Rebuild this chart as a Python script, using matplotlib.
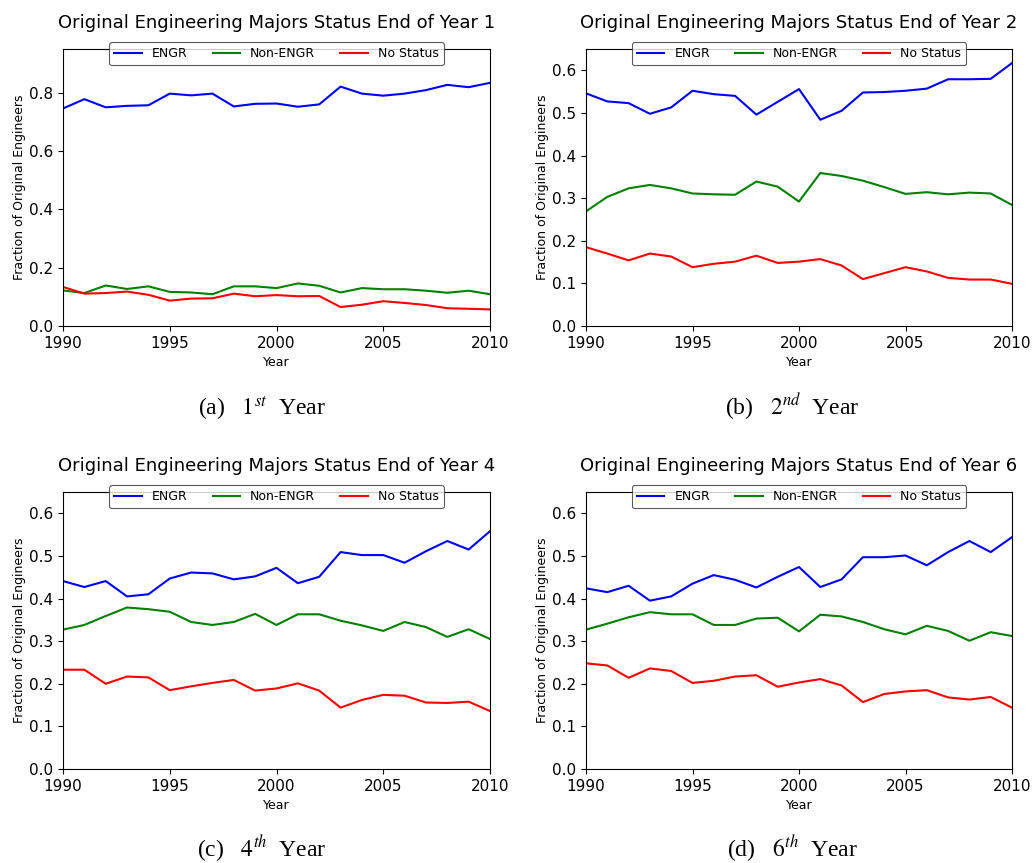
import matplotlib
matplotlib.use("Agg")
import matplotlib.pyplot as plt

years = list(range(1990, 2011))
series_names = ["ENGR", "Non-ENGR", "No Status"]
year_marks = [1, 2, 4, 6]
captions = ["(a)   $1^{st}$  Year", "(b)   $2^{nd}$  Year",
            "(c)   $4^{th}$  Year", "(d)   $6^{th}$  Year"]

# year 1
engr_y1 = [0.746, 0.778, 0.750, 0.755, 0.757, 0.797, 0.791, 0.797, 0.753, 0.762, 0.763,
           0.752, 0.760, 0.821, 0.797, 0.790, 0.797, 0.809, 0.827, 0.819, 0.834]
non_y1 = [0.122, 0.113, 0.139, 0.127, 0.136, 0.117, 0.115, 0.109, 0.136, 0.136, 0.130,
          0.146, 0.138, 0.115, 0.130, 0.126, 0.126, 0.121, 0.114, 0.121, 0.109]
none_y1 = [0.134, 0.111, 0.113, 0.118, 0.107, 0.087, 0.094, 0.095, 0.111, 0.102, 0.106,
           0.102, 0.103, 0.065, 0.073, 0.085, 0.079, 0.072, 0.061, 0.059, 0.057]

# year 2
engr_y2 = [0.546, 0.527, 0.523, 0.498, 0.513, 0.552, 0.544, 0.540, 0.496, 0.526, 0.556,
           0.484, 0.505, 0.548, 0.549, 0.552, 0.557, 0.579, 0.579, 0.580, 0.617]
non_y2 = [0.269, 0.303, 0.323, 0.331, 0.323, 0.311, 0.309, 0.308, 0.339, 0.327, 0.292,
          0.359, 0.352, 0.341, 0.326, 0.310, 0.314, 0.309, 0.313, 0.311, 0.284]
none_y2 = [0.185, 0.170, 0.154, 0.170, 0.163, 0.138, 0.146, 0.151, 0.165, 0.148, 0.151,
           0.157, 0.142, 0.110, 0.124, 0.138, 0.128, 0.113, 0.109, 0.109, 0.099]

# year 4
engr_y4 = [0.441, 0.427, 0.441, 0.405, 0.410, 0.447, 0.461, 0.459, 0.445, 0.452, 0.472,
           0.436, 0.451, 0.509, 0.502, 0.502, 0.484, 0.511, 0.535, 0.515, 0.558]
non_y4 = [0.327, 0.338, 0.359, 0.379, 0.375, 0.369, 0.345, 0.338, 0.345, 0.364, 0.338,
          0.363, 0.363, 0.348, 0.337, 0.324, 0.345, 0.333, 0.310, 0.328, 0.305]
none_y4 = [0.233, 0.233, 0.200, 0.217, 0.215, 0.185, 0.194, 0.202, 0.209, 0.184, 0.189,
           0.201, 0.184, 0.144, 0.162, 0.174, 0.172, 0.156, 0.155, 0.158, 0.136]

# year 6
engr_y6 = [0.424, 0.415, 0.430, 0.395, 0.405, 0.435, 0.455, 0.444, 0.426, 0.451, 0.474,
           0.427, 0.445, 0.497, 0.497, 0.501, 0.478, 0.509, 0.535, 0.509, 0.544]
non_y6 = [0.327, 0.341, 0.356, 0.368, 0.363, 0.363, 0.338, 0.338, 0.353, 0.355, 0.323,
          0.362, 0.358, 0.345, 0.328, 0.316, 0.336, 0.324, 0.301, 0.321, 0.312]
none_y6 = [0.248, 0.243, 0.214, 0.236, 0.230, 0.202, 0.207, 0.217, 0.220, 0.193, 0.203,
           0.211, 0.196, 0.157, 0.176, 0.182, 0.185, 0.168, 0.163, 0.169, 0.144]

panels = [
    (engr_y1, non_y1, none_y1),
    (engr_y2, non_y2, none_y2),
    (engr_y4, non_y4, none_y4),
    (engr_y6, non_y6, none_y6),
]
ytops = [0.95, 0.65, 0.65, 0.65]

COLORS = ["b", "g", "r"]
W, H = 1033, 863
# axes boxes in pixels: left, top, right, bottom
BOXES = [(63, 49, 490, 326), (586, 49, 1012, 326),
         (63, 492, 490, 769), (586, 492, 1012, 769)]
CAPTION_XY = [(262, 415), (792, 415), (262, 857), (792, 857)]

plt.rcParams["mathtext.fontset"] = "stix"

fig = plt.figure(figsize=(W / 100, H / 100), dpi=100)
fig.patch.set_facecolor("white")

for i, (vals, ytop, yr) in enumerate(zip(panels, ytops, year_marks)):
    l, t, r, b = BOXES[i]
    ax = fig.add_axes([l / W, 1 - b / H, (r - l) / W, (b - t) / H])
    for v, name, c in zip(vals, series_names, COLORS):
        ax.plot(years, v, color=c, lw=1.5, label=name)
    ax.set_xlim(1990, 2010)
    ax.set_ylim(0, ytop)
    ax.set_xticks([1990, 1995, 2000, 2005, 2010])
    ax.tick_params(labelsize=11, length=3.5, width=0.8)
    ax.set_title(f"Original Engineering Majors Status End of Year {yr}",
                 fontsize=13, y=1.0, pad=15)
    ax.set_xlabel("Year", fontsize=9)
    ax.set_ylabel("Fraction of Original Engineers", fontsize=9, labelpad=2)
    leg = ax.legend(loc="upper center", bbox_to_anchor=(0.5, 1.025),
                    borderaxespad=0, ncol=3, fontsize=9, handlelength=2.2,
                    columnspacing=2.0, fancybox=True, framealpha=0.8,
                    edgecolor="0.2")
    leg.get_frame().set_linewidth(0.8)

    cx, cy = CAPTION_XY[i]
    fig.text(cx / W, 1 - cy / H, captions[i], ha="center", va="baseline",
             fontsize=17, family="Liberation Serif")

fig.savefig("out.png", dpi=100, facecolor="white")
